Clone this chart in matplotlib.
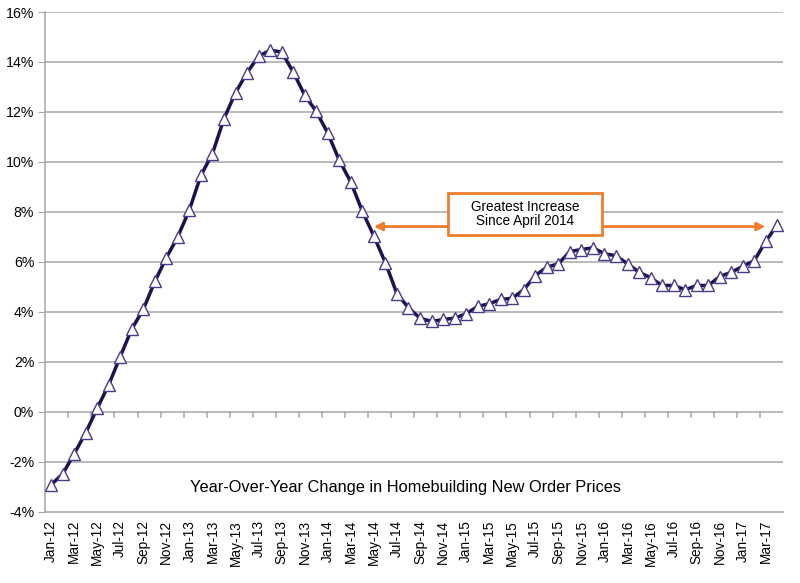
import matplotlib.pyplot as plt
from matplotlib.patches import Rectangle
from matplotlib.ticker import FuncFormatter

plt.rcParams['font.family'] = ['Liberation Sans', 'DejaVu Sans']

# monthly data, Jan-12 .. Apr-17
month_names = ['Jan', 'Feb', 'Mar', 'Apr', 'May', 'Jun',
               'Jul', 'Aug', 'Sep', 'Oct', 'Nov', 'Dec']
labels = [f'{m}-{y}' for y in range(12, 18) for m in month_names][:64]

yoy_change = [
    -2.93, -2.50, -1.70, -0.85, 0.13, 1.07, 2.20, 3.31, 4.09, 5.21, 6.16, 7.01,   # 2012
    8.08, 9.46, 10.33, 11.73, 12.77, 13.57, 14.23, 14.47, 14.40, 13.60, 12.67, 12.02,  # 2013
    11.15, 10.06, 9.19, 8.02, 7.03, 5.96, 4.72, 4.16, 3.74, 3.61, 3.69, 3.74,  # 2014
    3.92, 4.21, 4.32, 4.49, 4.54, 4.88, 5.45, 5.78, 5.92, 6.41, 6.49, 6.56,  # 2015
    6.32, 6.24, 5.92, 5.58, 5.36, 5.05, 5.05, 4.88, 5.05, 5.05, 5.41, 5.58,  # 2016
    5.82, 6.05, 6.83, 7.49,  # 2017
]

x = list(range(len(yoy_change)))

fig = plt.figure(figsize=(8, 5.83), dpi=100)
ax = fig.add_axes([0.0566, 0.1226, 0.9224, 0.8568])

grid_color = '#A6A6A6'
ax.set_ylim(-4, 16)
ax.set_xlim(-0.5, len(x) - 0.5)
ax.set_yticks(range(-4, 17, 2))
ax.yaxis.set_major_formatter(FuncFormatter(lambda v, p: f'{v:.0f}%'))
for yv in range(-2, 17, 2):
    ax.axhline(yv, color=grid_color, lw=1.1, zorder=1)

# tick marks hanging off the 0% line (every 2 months)
for tx in [i + 0.5 for i in range(1, len(x) - 1, 2)]:
    ax.plot([tx, tx], [0, -0.2], color=grid_color, lw=1.1, zorder=1)

ax.set_xticks(x[::2])
ax.set_xticklabels(labels[::2], rotation=90, fontsize=9.8)
ax.tick_params(axis='x', length=0, pad=6)
ax.tick_params(axis='y', length=5, color=grid_color, labelsize=10.2, pad=3)

for s in ['top', 'right']:
    ax.spines[s].set_visible(False)
for s in ['left', 'bottom']:
    ax.spines[s].set_color(grid_color)
    ax.spines[s].set_linewidth(1.1)

ax.plot(x, yoy_change, color='#1F1150', lw=2.5, zorder=3,
        marker='^', markersize=9, markerfacecolor='white',
        markeredgecolor='#4A3A8A', markeredgewidth=1.0)

# annotation box and arrows
orange = '#F07D2D'
box_x0, box_x1 = 34.45, 47.8
box_y0, box_y1 = 7.09, 8.75
arrow_y = 7.41
ax.add_patch(Rectangle((box_x0, box_y0), box_x1 - box_x0, box_y1 - box_y0,
                       facecolor='white', edgecolor=orange, lw=2, zorder=5))
ax.text((box_x0 + box_x1) / 2, (box_y0 + box_y1) / 2,
        'Greatest Increase\nSince April 2014', ha='center', va='center',
        fontsize=9.8, linespacing=1.05, zorder=6)
arrow_kw = dict(arrowstyle='-|>', color=orange, lw=2, mutation_scale=12,
                shrinkA=0, shrinkB=0)
ax.annotate('', xy=(28.0, arrow_y), xytext=(box_x0, arrow_y),
            arrowprops=arrow_kw, zorder=4)
ax.annotate('', xy=(61.95, arrow_y), xytext=(box_x1, arrow_y),
            arrowprops=arrow_kw, zorder=4)

ax.text(30.7, -3.05, 'Year-Over-Year Change in Homebuilding New Order Prices',
        ha='center', va='center', fontsize=11.8)

fig.savefig('out.png', dpi=100)
